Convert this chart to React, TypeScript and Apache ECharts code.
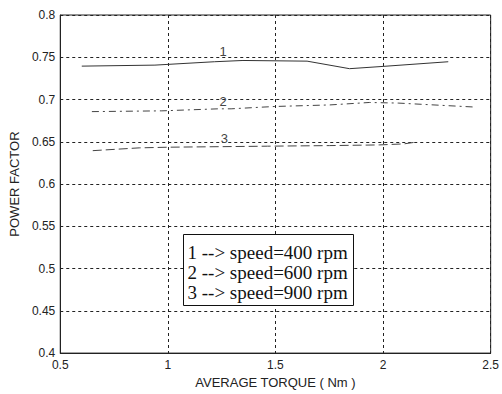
import React, { useEffect, useRef } from "react";
import * as echarts from "echarts";

const s1x = [0.6, 0.94, 1.216, 1.349, 1.647, 1.844, 2.0, 2.303];
const s1y = [0.7395, 0.7407, 0.7447, 0.7462, 0.7454, 0.7365, 0.7392, 0.7447];
const s2x = [0.647, 0.972, 1.234, 1.294, 1.431, 1.5, 1.752, 1.936, 2.07, 2.417];
const s2y = [0.6857, 0.6866, 0.689, 0.689, 0.6909, 0.6918, 0.6936, 0.6965, 0.6958, 0.6912];
const s3x = [0.651, 0.867, 1.005, 1.463, 1.752, 1.982, 2.096, 2.15];
const s3y = [0.6395, 0.6428, 0.6436, 0.6448, 0.6455, 0.6463, 0.6475, 0.6495];
const curveLabels = ["1", "2", "3"];
const curveLabelX = [1.257, 1.257, 1.262];
const curveLabelY = [0.7567, 0.698, 0.6538];
const legendLines = ["1 --> speed=400 rpm", "2 --> speed=600 rpm", "3 --> speed=900 rpm"];
const xTitle = "AVERAGE TORQUE ( Nm )";
const yTitle = "POWER FACTOR";

const zip = (xs: number[], ys: number[]) => xs.map((x, i) => [x, ys[i]]);

export default function App() {
  const ref = useRef<HTMLDivElement>(null);
  useEffect(() => {
    const chart = echarts.init(ref.current!, null, { renderer: "svg" });
    const font = "'Liberation Sans', Arial, sans-serif";
    const lineStyles: any[] = [
      { color: "#333", width: 1, type: "solid" },
      { color: "#444", width: 1, type: [7, 4, 2, 4] },
      { color: "#444", width: 1, type: [9, 4] },
    ];
    const datas = [zip(s1x, s1y), zip(s2x, s2y), zip(s3x, s3y)];
    chart.setOption({
      animation: false,
      backgroundColor: "#fff",
      grid: { left: 57, top: 15, right: 9, bottom: 37, show: true, borderColor: "#222", borderWidth: 1, backgroundColor: "#fff" },
      xAxis: {
        type: "value", min: 0.5, max: 2.5, interval: 0.5,
        name: xTitle, nameLocation: "middle", nameGap: 20,
        nameTextStyle: { fontFamily: font, fontSize: 13, color: "#222" },
        axisLine: { show: true, lineStyle: { color: "#222" } },
        axisTick: { show: false },
        axisLabel: { fontFamily: font, fontSize: 12, color: "#222", margin: 6 },
        splitLine: { show: true, lineStyle: { color: "#222", type: [3, 3], width: 1 } },
      },
      yAxis: {
        type: "value", min: 0.4, max: 0.8, interval: 0.05,
        name: yTitle, nameLocation: "middle", nameGap: 32,
        nameTextStyle: { fontFamily: font, fontSize: 13, color: "#222" },
        axisLine: { show: true, lineStyle: { color: "#222" } },
        axisTick: { show: false },
        axisLabel: { fontFamily: font, fontSize: 12, color: "#222", margin: 5 },
        splitLine: { show: true, lineStyle: { color: "#222", type: [3, 3], width: 1 } },
      },
      series: datas.map((d, i) => ({
        type: "line",
        data: d,
        symbol: "none",
        lineStyle: lineStyles[i],
        silent: true,
        markPoint: {
          symbol: "circle", symbolSize: 0,
          data: [{ coord: [curveLabelX[i], curveLabelY[i]], value: curveLabels[i] }],
          label: { show: true, position: "inside", formatter: curveLabels[i], fontFamily: font, fontSize: 13, color: "#444" },
        },
      })),
      graphic: [
        {
          type: "group", left: 183, top: 234, z: 100,
          children: [
            { type: "rect", z: 100, shape: { x: 0, y: 0, width: 170, height: 71 }, style: { fill: "#fff", stroke: "#111", lineWidth: 1 } },
            ...legendLines.map((t, i) => ({
              type: "text", z: 101, x: 4, y: 18 + i * 20,
              style: { text: t, font: "19px 'Liberation Serif', 'Times New Roman', serif", fill: "#111", textVerticalAlign: "middle" },
            })),
          ],
        },
      ],
    });
    return () => chart.dispose();
  }, []);
  return <div ref={ref} style={{ width: 502, height: 394, position: "absolute", left: 0, top: 0 }} />;
}
